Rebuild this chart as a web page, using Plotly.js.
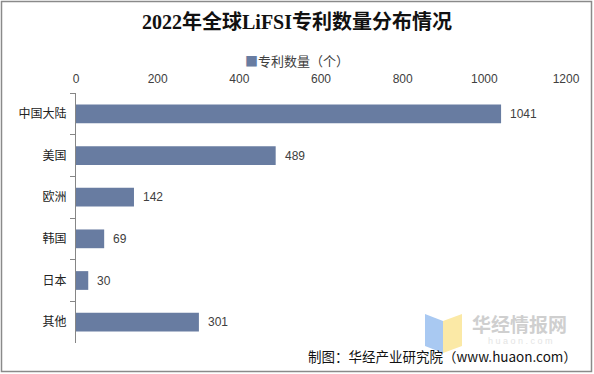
<!DOCTYPE html>
<html>
<head>
<meta charset="utf-8">
<script src="https://cdn.plot.ly/plotly-3.0.1.min.js"></script>
<style>
  html, body { margin: 0; padding: 0; background: #fff; }
  #chart { width: 594px; height: 374px; }
</style>
</head>
<body>
<div id="chart"></div>
<script>
// ---- data ----
const categories = ["中国大陆", "美国", "欧洲", "韩国", "日本", "其他"];
const patentCounts = [1041, 489, 142, 69, 30, 301];
const seriesName = "专利数量（个）";
const xTickValues = [0, 200, 400, 600, 800, 1000, 1200];
const titleText = "2022年全球LiFSI专利数量分布情况";
const sourceText = "制图：华经产业研究院（www.huaon.com）";

// ---- layout helpers (pixel -> paper) ----
const W = 594, H = 374;
const M = { l: 76, r: 28, t: 93, b: 31 };
const PW = W - M.l - M.r, PH = H - M.t - M.b;
const px = x => (x - M.l) / PW;
const py = y => (H - M.b - y) / PH;

const barColor = "#687ca1";
const labelFont = "Liberation Sans, Arial, Noto Sans CJK SC, sans-serif";

const trace = {
  type: "bar",
  orientation: "h",
  y: categories,
  x: patentCounts,
  name: seriesName,
  marker: { color: barColor },
  showlegend: false,
  hoverinfo: "x+y"
};

const valueAnnotations = categories.map((c, i) => ({
  x: patentCounts[i], y: c, xref: "x", yref: "y",
  text: String(patentCounts[i]),
  showarrow: false, xanchor: "left", xshift: 7,
  font: { family: labelFont, size: 12, color: "#404040" }
}));

function poly(pts) {
  return "M" + pts.map(p => px(p[0]) + "," + py(p[1])).join(" L") + " Z";
}

const layout = {
  width: W, height: H,
  margin: M,
  paper_bgcolor: "#ffffff",
  plot_bgcolor: "#ffffff",
  title: {
    text: titleText,
    font: { family: "Liberation Serif, Noto Sans CJK SC, serif", size: 20, color: "#111111", weight: "bold" },
    x: px(297), xref: "paper", xanchor: "center",
    y: 1 - 22 / H, yanchor: "middle"
  },
  bargap: 0.55,
  xaxis: {
    side: "top",
    range: [0, 1200],
    tickvals: xTickValues,
    ticktext: xTickValues.map(String),
    showgrid: false, zeroline: false, showline: false, ticks: "",
    ticklabelstandoff: 7,
    tickfont: { family: labelFont, size: 12, color: "#404040" },
    fixedrange: true
  },
  yaxis: {
    type: "category",
    autorange: "reversed",
    showgrid: false, zeroline: false,
    showline: true, linecolor: "#868686", linewidth: 1,
    ticks: "outside", tickson: "boundaries", ticklen: 5, tickcolor: "#868686",
    ticklabelstandoff: 6,
    tickfont: { family: "Noto Sans CJK SC, sans-serif", size: 12, color: "#222222" },
    fixedrange: true
  },
  showlegend: false,
  shapes: [
    { type: "rect", xref: "paper", yref: "paper",
      x0: px(1.5), x1: px(591.5), y0: py(371.5), y1: py(1.5),
      line: { color: "#8a8a8a", width: 1.5 }, layer: "above" },
    { type: "path", xref: "paper", yref: "paper",
      path: poly([[425, 314], [443, 321], [443, 353], [425, 346]]),
      fillcolor: "#a9c9f2", line: { width: 0 }, layer: "below" },
    { type: "path", xref: "paper", yref: "paper",
      path: poly([[443, 321], [462, 314], [462, 346], [443, 353]]),
      fillcolor: "#fbe9a6", line: { width: 0 }, layer: "below" }
  ],
  annotations: valueAnnotations.concat([
    { xref: "paper", yref: "paper", x: px(297), y: py(60), xanchor: "center", yanchor: "middle",
      text: '<span style="color:' + barColor + '">■</span>' + seriesName, showarrow: false,
      font: { family: "Noto Sans CJK SC, sans-serif", size: 13, color: "#404040" } },
    { xref: "paper", yref: "paper", x: px(470), y: py(323), xanchor: "left", yanchor: "middle",
      text: "<b>华经情报网</b>", showarrow: false,
      font: { family: "Noto Sans CJK SC, sans-serif", size: 19, color: "#cfcfcf" } },
    { xref: "paper", yref: "paper", x: px(520), y: py(341), xanchor: "center", yanchor: "middle",
      text: "h u a o n . c o m", showarrow: false,
      font: { family: labelFont, size: 9, color: "#e4e4e4" } },
    { xref: "paper", yref: "paper", x: px(579), y: py(356), xanchor: "right", yanchor: "middle",
      text: sourceText, showarrow: false,
      font: { family: "Noto Sans CJK SC, sans-serif", size: 13.5, color: "#111111" } }
  ])
};

Plotly.newPlot("chart", [trace], layout, { staticPlot: true, displayModeBar: false });
</script>
</body>
</html>
